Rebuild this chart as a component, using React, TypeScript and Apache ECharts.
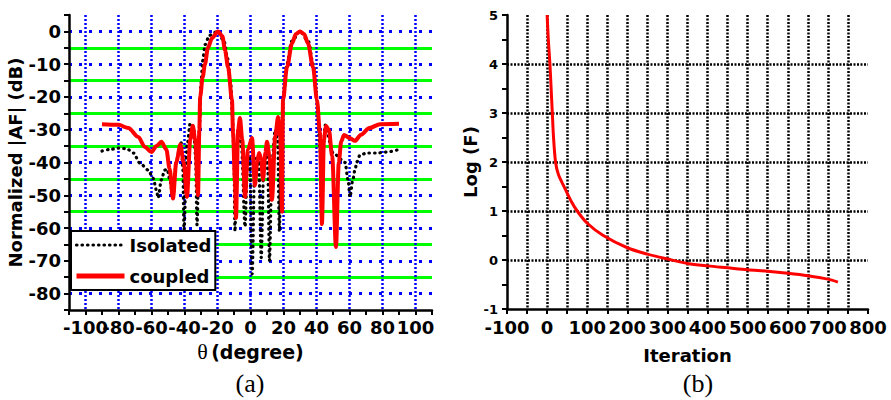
import React, { useEffect, useRef } from "react";
import * as echarts from "echarts";

// (a) radiation pattern
const isolatedTheta = [-90, -85, -80, -75, -71, -67, -62, -59, -57, -56, -54, -52, -50.5, -49, -47, -45, -43.5, -42, -41, -40.3, -38.5, -36.5, -34.5, -33.3, -32.4, -31, -30, -29, -27.5, -25, -20, -16, -14, -12, -10.8, -10, -9.4, -8.5, -7, -5.5, -3.3, -2, -0.5, 1, 2.5, 4, 5, 6.5, 8, 9.5, 10.5, 11.5, 13, 15, 16.5, 17.5, 18.7, 20, 22, 25, 30, 35, 38, 40.3, 42, 43.3, 44.3, 45.2, 50, 55.5, 57.3, 59.1, 60.3, 62, 63.3, 64.5, 66.4, 70.6, 76.7, 82.7, 88.8];
const isolatedDb = [-36.5, -36, -35.6, -35.8, -37.1, -40.2, -42.3, -44.8, -48.4, -50.8, -45.3, -42.3, -42, -45, -50.8, -40, -37, -34, -42, -60.6, -35, -28, -29, -38, -59, -30, -16, -9, -4, -1.2, 0, -3, -8, -16, -27, -40, -61, -40, -30, -35, -59.6, -42, -38, -74, -42, -38, -40, -69, -42, -37, -42, -70, -40, -30, -33, -61, -30, -20, -10, -3, 0, -3, -10, -21, -35, -58.5, -35, -28.6, -37, -39.2, -40, -45.3, -50.5, -45.3, -42.3, -39.8, -37.7, -37.1, -37.1, -36.8, -36.2];

const coupledTheta = [-90, -80, -74, -68, -64, -60, -57, -54, -51, -49, -47, -45, -42.5, -40.5, -38.5, -36.5, -35, -33.5, -31.8, -31, -30.5, -29, -27.6, -25.8, -23.3, -19.7, -17, -15.5, -13.6, -11.2, -10.6, -9.4, -8.8, -7.5, -6.4, -5, -3.3, -1.5, 0.9, 2.7, 4, 5.2, 6.5, 7.6, 9, 10, 11.5, 13, 15, 16.7, 18, 19.1, 19.7, 22.1, 25.2, 27.5, 30, 32.5, 34.8, 37.9, 40.3, 42.1, 43.3, 44.5, 45.8, 47.5, 49.5, 51.8, 53.5, 55, 56.7, 60, 63.3, 67, 72, 78.5, 90];
const coupledDb = [-28.3, -28.5, -29.5, -32.2, -35.3, -36.8, -35, -33.7, -36, -42, -51, -40, -34.5, -40, -50.5, -33, -28.8, -33, -50, -30, -20, -14, -10, -5, -2, 0, -1.5, -5.7, -10.9, -21, -31, -46, -57, -30, -26.4, -33, -50.5, -36, -32.5, -47, -40, -37.1, -39, -45.3, -37, -33.7, -38, -51.4, -32, -26.1, -32, -55, -21, -10.9, -3.6, -0.8, 0, -0.8, -3.6, -10.9, -21, -31, -58.8, -33, -28.9, -30, -38, -65.8, -40, -33.5, -31.6, -32.5, -33.4, -31.5, -29.5, -28.3, -28.2];

const thetaTicks = [-100, -80, -60, -40, -20, 0, 20, 40, 60, 80, 100];
const dbTicks = [0, -10, -20, -30, -40, -50, -60, -70, -80];

// (b) convergence
const iterations = [0, 3, 7, 10, 13, 16, 21, 28, 45, 60, 75, 100, 140, 200, 250, 300, 350, 400, 450, 500, 550, 600, 650, 700, 725];
const logF = [5, 4.5, 4, 3.5, 3, 2.5, 2, 1.75, 1.45, 1.2, 1.0, 0.75, 0.5, 0.25, 0.12, 0.02, -0.07, -0.12, -0.16, -0.2, -0.23, -0.27, -0.32, -0.39, -0.45];
const iterTicks = [-100, 0, 100, 200, 300, 400, 500, 600, 700, 800];
const logTicks = [-1, 0, 1, 2, 3, 4, 5];

const FONT = "DejaVu Sans";
const T = "rgba(0,0,0,0)";

export default function App() {
  const ref = useRef<HTMLDivElement>(null);
  useEffect(() => {
    document.body.style.margin = "0";
    const chart = echarts.init(ref.current!, null, { renderer: "svg" });
    const zip = (a: number[], b: number[]) => a.map((v, i) => [v, b[i]]);
    const greenColors = [T, "#00ff00", "#00ff00", "#00ff00", "#00ff00", "#00ff00", "#00ff00", "#00ff00", "#00ff00", T];
    const rightXColors = [T].concat(Array(17).fill("#000")).concat([T]);
    const rightYColors = [T, T, "#000", T, "#000", T, "#000", T, "#000", T, "#000", T, T];
    const bigLabel = { fontFamily: FONT, fontWeight: "bold", fontSize: 18, color: "#000" };
    const axisLine = { show: true, onZero: false, lineStyle: { color: "#000", width: 2.5 } };
    const axisTick = { show: true, length: 5, lineStyle: { color: "#000", width: 2 } };
    chart.setOption({
      animation: false,
      backgroundColor: "#fff",
      grid: [
        { left: 69, top: 15, width: 363, height: 295 },
        { left: 507, top: 15, width: 361, height: 294 },
      ],
      legend: {
        data: [
          { name: "Isolated", lineStyle: { width: 3.2 } },
          { name: "coupled", lineStyle: { width: 5 } },
        ],
        orient: "vertical",
        left: 71,
        top: 231,
        itemWidth: 48,
        itemHeight: 14,
        itemGap: 13,
        padding: [5, 4, 5, 3],
        backgroundColor: "#fff",
        borderColor: "#000",
        borderWidth: 2,
        borderRadius: 0,
        selectedMode: false,
        itemStyle: { opacity: 0 },
        textStyle: { fontFamily: FONT, fontWeight: "bold", fontSize: 18, color: "#000" },
      },
      xAxis: [
        {
          type: "value", gridIndex: 0, min: -110, max: 110, interval: 10,
          axisLine, axisTick,
          axisLabel: {
            ...bigLabel, fontSize: 18, margin: 8,
            formatter: (v: number) => (thetaTicks.indexOf(v) >= 0 ? String(v) : ""),
          },
          splitLine: { show: true, lineStyle: { color: [T, "#0000ff"], width: 2.5, type: [2, 2] } },
          name: "{t|θ} {b|(degree)}",
          nameLocation: "middle",
          nameGap: 28,
          nameTextStyle: {
            rich: {
              t: { fontFamily: "Liberation Serif", fontSize: 22, color: "#000" },
              b: { fontFamily: FONT, fontWeight: "bold", fontSize: 19, color: "#000" },
            },
          },
        },
        {
          type: "value", gridIndex: 1, min: -100, max: 800, interval: 50,
          axisLine, axisTick,
          axisLabel: {
            ...bigLabel, fontSize: 18, margin: 9,
            formatter: (v: number) => (iterTicks.indexOf(v) >= 0 ? String(v) : ""),
          },
          splitLine: { show: true, lineStyle: { color: rightXColors, width: 2.5, type: [2, 1.5] } },
          name: "Iteration",
          nameLocation: "middle",
          nameGap: 37,
          nameTextStyle: { fontFamily: FONT, fontWeight: "bold", fontSize: 18, color: "#000" },
        },
      ],
      yAxis: [
        {
          type: "value", gridIndex: 0, min: -85, max: 5, interval: 5,
          axisLine, axisTick,
          axisLabel: {
            ...bigLabel, margin: 8,
            formatter: (v: number) => (dbTicks.indexOf(v) >= 0 ? String(v) : ""),
          },
          splitLine: { show: true, lineStyle: { color: [T, "#0000ff"], width: 3, type: [3, 7] } },
          name: "Normalized |AF| (dB)",
          nameLocation: "middle",
          nameGap: 43,
          nameTextStyle: { fontFamily: FONT, fontWeight: "bold", fontSize: 18, color: "#000" },
        },
        {
          type: "value", gridIndex: 0, min: -85, max: 5, interval: 10,
          axisLine: { show: false }, axisTick: { show: false }, axisLabel: { show: false },
          splitLine: { show: true, lineStyle: { color: greenColors, width: 3, type: "solid" } },
        },
        {
          type: "value", gridIndex: 1, min: -1, max: 5, interval: 0.5,
          axisLine, axisTick,
          axisLabel: {
            ...bigLabel, fontSize: 13, margin: 9,
            formatter: (v: number) => (logTicks.indexOf(v) >= 0 ? String(v) : ""),
          },
          splitLine: { show: true, lineStyle: { color: rightYColors, width: 2.5, type: [2, 1.5] } },
          name: "Log (F)",
          nameLocation: "middle",
          nameGap: 25,
          nameTextStyle: { fontFamily: FONT, fontWeight: "bold", fontSize: 18, color: "#000" },
        },
      ],
      series: [
        {
          name: "Isolated", type: "line", xAxisIndex: 0, yAxisIndex: 0,
          data: zip(isolatedTheta, isolatedDb),
          symbol: "none", smooth: 0.3, smoothMonotone: "x",
          lineStyle: { color: "#000", width: 3.2, type: [0.5, 5], cap: "round" },
          itemStyle: { color: "#000" },
          z: 3,
        },
        {
          name: "coupled", type: "line", xAxisIndex: 0, yAxisIndex: 0,
          data: zip(coupledTheta, coupledDb),
          symbol: "none", smooth: 0.3, smoothMonotone: "x",
          lineStyle: { color: "#ff0000", width: 4 },
          itemStyle: { color: "#ff0000" },
          z: 4,
        },
        {
          name: "logF", type: "line", xAxisIndex: 1, yAxisIndex: 2,
          data: zip(iterations, logF),
          symbol: "none", smooth: 0.3,
          lineStyle: { color: "#ff0000", width: 3 },
        },
      ],
      graphic: [
        { type: "text", x: 250, y: 383, style: { text: "(a)", fontSize: 26, fontFamily: "Liberation Serif", fill: "#000", align: "center", verticalAlign: "middle" } },
        { type: "text", x: 698, y: 383, style: { text: "(b)", fontSize: 26, fontFamily: "Liberation Serif", fill: "#000", align: "center", verticalAlign: "middle" } },
      ],
    });
    return () => chart.dispose();
  }, []);
  return <div ref={ref} style={{ width: 891, height: 400 }} />;
}
